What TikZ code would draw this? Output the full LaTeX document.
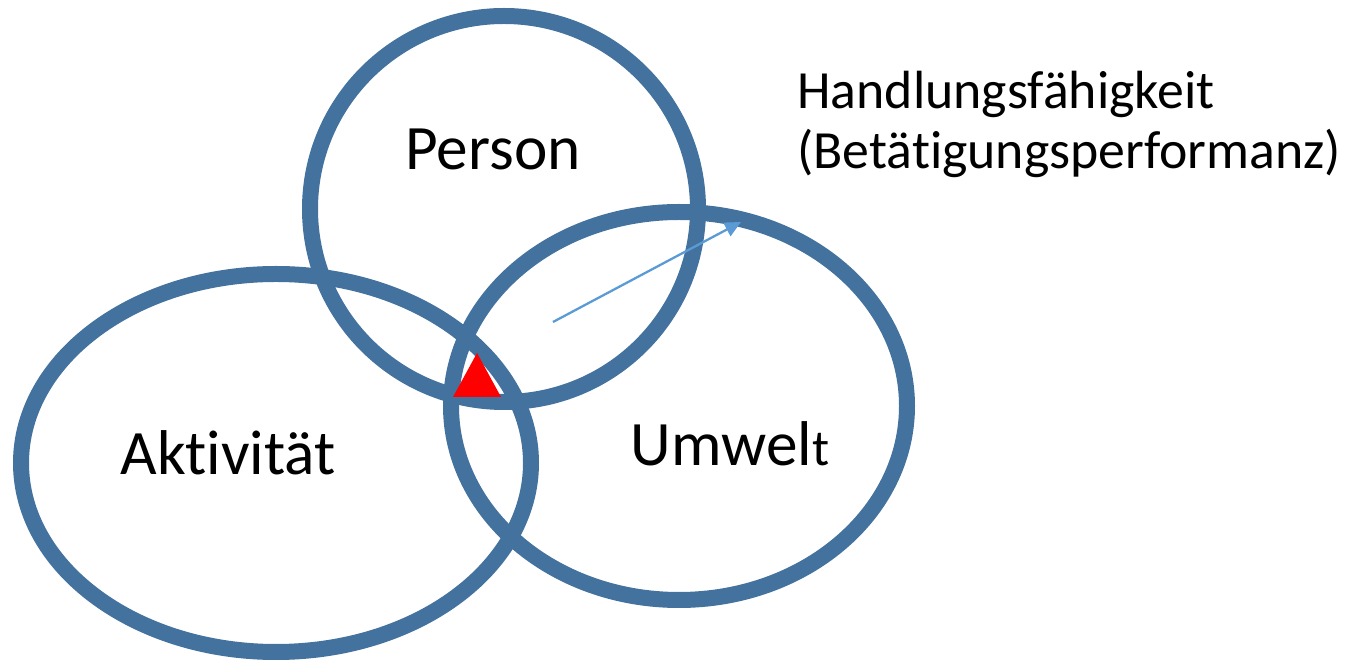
\documentclass[tikz,border=0pt]{standalone}
\usepackage{fontspec}
\setmainfont{Carlito}[Ligatures=NoCommon]
\usetikzlibrary{arrows.meta,positioning}
\definecolor{ringblau}{RGB}{67,114,158}
\definecolor{pfeilblau}{RGB}{91,155,213}
\definecolor{signalrot}{RGB}{255,0,0}

\begin{document}
\begin{tikzpicture}[
      x=0.02cm,y=-0.02cm,
      ring/.style={draw=ringblau,line width=0.32cm},
      beschrift/.style={anchor=base,inner sep=0pt,
        font=\fontsize{36}{42}\selectfont},
      hinweis/.style={anchor=north west,inner sep=0pt,align=left,
        font=\fontsize{30.6}{34}\selectfont},
      pfeil/.style={-{Triangle[length=3.2mm,width=3mm]},
        line width=1.3pt,pfeilblau}
    ]
      \useasboundingbox (0,0) rectangle (1346,661);

      % die drei Bereiche
      \draw[ring] (276,463) ellipse [x radius=255,y radius=189];
      \draw[ring] (679,406) ellipse [x radius=228,y radius=194];
      \draw[ring] (504,209) ellipse [x radius=194,y radius=193];

      \node[beschrift](person) at (493,170) {Person};
      \node[beschrift](aktivitaet) at (228,475) {Aktivität};
      \node[beschrift](umwelt) at (730,466)
        {Umwel{\fontsize{29}{34}\selectfont t}};

      % Schnittmenge
      \fill[signalrot] (477,353) -- (501,397) -- (453,397) -- cycle;

      \node[hinweis](handlung) at (797,71)
        {Handlungsfähigkeit\\(Betätigungsperformanz)};

      \coordinate (pfeilstart) at (553,322);
      \coordinate (pfeilende) at (741,222);
      \draw[pfeil](pfeilstart)--(pfeilende);
    \end{tikzpicture}
\end{document}
